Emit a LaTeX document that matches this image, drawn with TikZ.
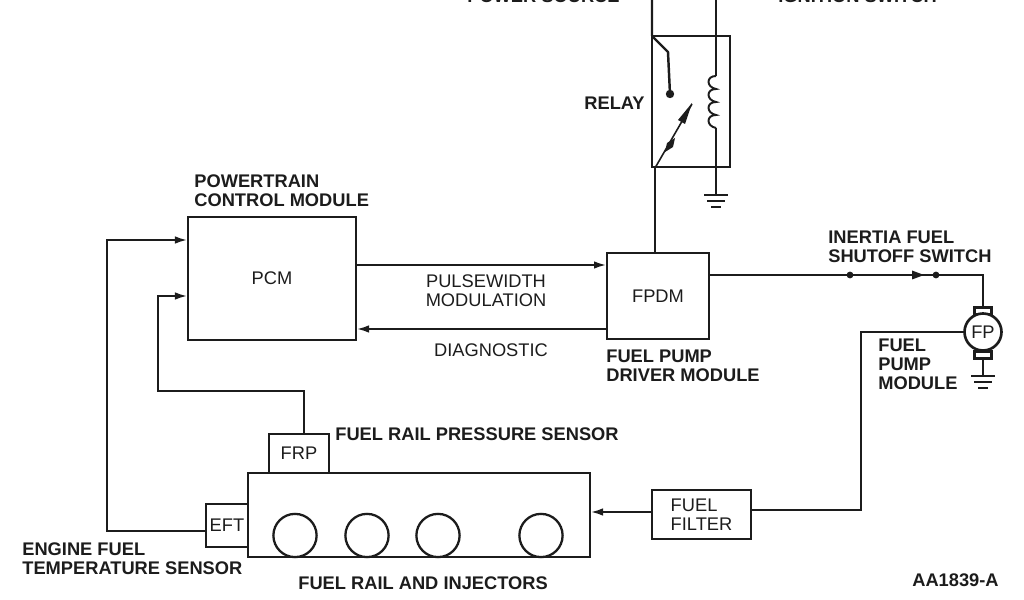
\documentclass[tikz,border=0pt]{standalone}
\usepackage{fontspec}
\setmainfont{Liberation Sans}
\usetikzlibrary{arrows.meta,positioning}
\definecolor{fuelInk}{HTML}{1C1C1C}
\tikzset{
  fuelbox/.style={rectangle,draw=fuelInk,line width=1.5pt,fill=white,inner sep=0pt,outer sep=0pt,
                  font=\fontsize{10.4}{10.8}\selectfont,text=fuelInk},
  fuelinjector/.style={circle,draw=fuelInk,line width=1.3pt,minimum size=24.6pt,inner sep=0pt,outer sep=0pt},
  fuelwire/.style={line width=1.4pt,draw=fuelInk},
  fuelarrow/.style={fuelwire,-{Latex[length=2.6mm,width=1.5mm]}},
  fuellabel/.style={font=\fontsize{10.4}{10.8}\bfseries\selectfont,align=left,text=fuelInk,inner sep=0pt},
  fueltext/.style={font=\fontsize{10.4}{10.8}\selectfont,align=center,text=fuelInk,inner sep=0pt},
  fuelground/.pic={
    \draw[fuelwire] (-12,0) -- (12,0);
    \draw[fuelwire] (-9,6) -- (9,6);
    \draw[fuelwire] (-5,12) -- (5,12);
  }
}
\begin{document}
\begin{tikzpicture}[x=0.2mm,y=-0.2mm]
    \useasboundingbox (0,0) rectangle (1024,600);
    \clip (0,0) rectangle (1024,600);
    % boxes
    \node[fuelbox,minimum width=33.6mm,minimum height=24.6mm] (pcm) at (272,278.5) {PCM\hspace{2.4mm}};
    \node[fuelbox,minimum width=20.4mm,minimum height=17.2mm] (fpdm) at (658,296) {FPDM};
    \node[fuelbox,minimum width=68.4mm,minimum height=16.8mm] (rail) at (419,515) {};
    \node[fuelbox,minimum width=12mm,minimum height=7.8mm] (frp) at (299,453.5) {FRP};
    \node[fuelbox,minimum width=8.4mm,minimum height=8.6mm] (eft) at (227,525.5) {EFT};
    \node[fuelbox,minimum width=19.8mm,minimum height=9.8mm,align=left] (filter) at (701.5,514.5) {FUEL\\FILTER};
    \node[fuelbox,minimum width=15.6mm,minimum height=26.2mm,fill=none] (relay) at (691,101.5) {};

    % motor end caps
    \node[fuelbox,minimum width=3.4mm,minimum height=1.3mm] (fptop) at (983,311) {};
    \node[fuelbox,minimum width=3.4mm,minimum height=1.3mm] (fpbot) at (983,355) {};
    \node[fuelbox,circle,minimum size=7.4mm] (fp) at (983,332) {FP};

    % injectors
    \foreach \ix/\xpos in {1/295,2/367,3/438,4/541}
      \node[fuelinjector] (inj\ix) at (\xpos,535.5) {};

    % free ends of the wires
    \coordinate (powerin) at (652,-5);
    \coordinate (ignin) at (716,-5);
    \coordinate (coiltop) at (716,76);
    \coordinate (coilbot) at (716,128);
    \coordinate (groundrelay) at (716,195);
    \coordinate (groundfp) at (983,376);
    \coordinate (contact) at (670,94);
    \coordinate (swhinge) at (655,168);
    \coordinate (swtip) at (692,104);

    % main signal lines
    \draw[fuelarrow] (pcm.east |- 0,265) -- (fpdm.west |- 0,265);
    \draw[fuelarrow] (fpdm.west |- 0,329) -- (pcm.east |- 0,329);
    \draw[fuelarrow] (304,0 |- frp.north) -- (304,391) -- (158,391) -- (158,296) -- (pcm.west |- 0,296);
    \draw[fuelarrow] (eft.west |- 0,531) -- (107,531) -- (107,240) -- (pcm.west |- 0,240);
    \draw[fuelarrow] (filter.west |- 0,512) -- (rail.east |- 0,512);
    \draw[fuelwire] (filter.east |- 0,510) -- (861,510) -- (861,332) -- (fp.west);
    \draw[fuelwire] (fpdm.east |- 0,275) -- (983,275) -- (fptop.north);
    \draw[fuelwire] (fpbot.south) -- (groundfp);
    \pic at (groundfp) {fuelground};

    % shutoff switch
    \fill[fuelInk] (850,275) circle (3.4);
    \fill[fuelInk] (936,275) circle (3.4);
    \fill[fuelInk] (912,270.5) -- (924,275) -- (912,279.5) -- cycle;

    % relay
    \draw[fuelwire] (powerin) -- (relay.north west);
    \draw[fuelwire] (relay.north west) -- (668,52) -- (contact);
    \fill[fuelInk] (contact) circle (4.2);
    \draw[fuelwire] (swhinge) -- (fpdm.north -| swhinge);
    \draw[fuelwire,line width=0.9pt] (swhinge) -- (swtip);
    \fill[fuelInk] (692,103) -- (678,120) -- (685,124) -- cycle;
    \fill[fuelInk] (675,138) -- (673,147) -- (665,152) -- (667,143) -- cycle;
    \draw[fuelwire] (ignin) -- (coiltop);
    \draw[fuelwire,line width=1.1pt] (coiltop)
      \foreach \ib in {0,1,2,3}
        { .. controls (706,{76+\ib*13}) and (706,{87+\ib*13}) .. (716,{89+\ib*13}) };
    \draw[fuelwire] (coilbot) -- (groundrelay);
    \pic at (groundrelay) {fuelground};

    % labels
    \node[fuellabel,anchor=west] (pcmlabel) at (194,190.5) {POWERTRAIN\\CONTROL MODULE};
    \node[fuellabel,anchor=east] (relaylabel) at (645,103) {RELAY};
    \node[fueltext] (pwmlabel) at (486,290.5) {PULSEWIDTH\\MODULATION};
    \node[fueltext] (diaglabel) at (491,350) {DIAGNOSTIC};
    \node[fuellabel,anchor=west] (fpdmlabel) at (606,366) {FUEL PUMP\\DRIVER MODULE};
    \node[fuellabel,anchor=west] (switchlabel) at (828,247) {INERTIA FUEL\\SHUTOFF SWITCH};
    \node[fuellabel,anchor=west] (fplabel) at (878,364) {FUEL\\PUMP\\MODULE};
    \node[fuellabel,anchor=west] (frplabel) at (335,434) {FUEL RAIL PRESSURE SENSOR};
    \node[fuellabel,anchor=west] (eftlabel) at (22,558.5) {ENGINE FUEL\\TEMPERATURE SENSOR};
    \node[fuellabel,anchor=west] (raillabel) at (298,583) {FUEL RAIL AND INJECTORS};
    \node[fuellabel,anchor=west] (figlabel) at (912,580) {AA1839-A};
    \node[fuellabel,anchor=east] (powerlabel) at (620,-4) {POWER SOURCE};
    \node[fuellabel,anchor=west] (ignlabel) at (778,-4) {IGNITION SWITCH};
\end{tikzpicture}
\end{document}
